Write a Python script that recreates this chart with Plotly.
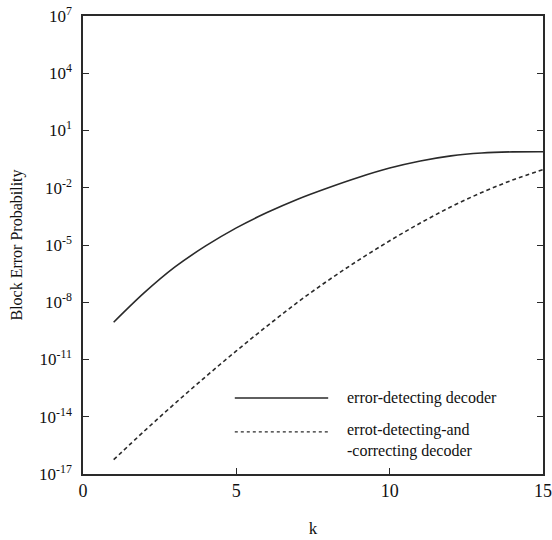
import plotly.graph_objects as go

k = list(range(1, 16))
log_detect = [-9.05, -7.5, -6.15, -5.05, -4.1, -3.3, -2.6, -2.0, -1.45, -0.97, -0.6, -0.33, -0.18, -0.12, -0.11]
log_correct = [-16.25, -14.75, -13.3, -11.9, -10.55, -9.25, -8.0, -6.85, -5.78, -4.78, -3.85, -3.0, -2.25, -1.6, -1.05]
p_detect = [10 ** v for v in log_detect]
p_correct = [10 ** v for v in log_correct]

y_exps = [7, 4, 1, -2, -5, -8, -11, -14, -17]
y_tickvals = [10.0 ** e for e in y_exps]
y_ticktext = ["10<sup>%d</sup>" % e for e in y_exps]
x_tickvals = [0, 5, 10, 15]

legend_names = ["error-detecting decoder", "errot-detecting-and<br>-correcting decoder"]

FONT = "Liberation Serif, Times New Roman, serif"
LC = "#2a2a2a"

fig = go.Figure()
fig.add_trace(go.Scatter(x=k, y=p_detect, mode="lines", line=dict(color=LC, width=1.6, shape="spline", smoothing=1.0),
                         name=legend_names[0], showlegend=False))
fig.add_trace(go.Scatter(x=k, y=p_correct, mode="lines",
                         line=dict(color=LC, width=1.6, dash="4px,3px", shape="spline", smoothing=1.0),
                         name=legend_names[1], showlegend=False))

# manual legend
fig.add_shape(type="line", xref="paper", yref="paper", x0=0.330, x1=0.533, y0=0.166, y1=0.166,
              line=dict(color=LC, width=1.6))
fig.add_shape(type="line", xref="paper", yref="paper", x0=0.330, x1=0.533, y0=0.092, y1=0.092,
              line=dict(color=LC, width=1.2, dash="3px,3px"))
fig.add_annotation(xref="paper", yref="paper", x=0.570, y=0.166, text=legend_names[0], showarrow=False,
                   xanchor="left", yanchor="middle", align="left", font=dict(family=FONT, size=16, color="#111"))
fig.add_annotation(xref="paper", yref="paper", x=0.570, y=0.074, text=legend_names[1], showarrow=False,
                   xanchor="left", yanchor="middle", align="left", font=dict(family=FONT, size=16, color="#111"))

fig.update_layout(
    width=552, height=540,
    margin=dict(l=83, r=9, t=16, b=66, autoexpand=False),
    paper_bgcolor="white", plot_bgcolor="white",
    font=dict(family=FONT, size=16, color="#111"),
    showlegend=False,
    xaxis=dict(range=[0, 15], tickvals=x_tickvals, ticks="inside", ticklen=6, tickcolor=LC,
               showline=True, linecolor=LC, linewidth=1.5, mirror=True, showgrid=False, zeroline=False,
               automargin=False,
               title=dict(text="k", font=dict(family=FONT, size=17), standoff=22),
               tickfont=dict(family=FONT, size=18)),
    yaxis=dict(type="log", range=[-17, 7], tickvals=y_tickvals, ticktext=y_ticktext, ticks="inside",
               ticklen=6, tickcolor=LC, showline=True, linecolor=LC, linewidth=1.5, mirror="ticks",
               showgrid=False, zeroline=False, ticklabelstandoff=6, automargin=False,
               title=dict(text="Block Error Probability", font=dict(family=FONT, size=16), standoff=12),
               tickfont=dict(family=FONT, size=17)),
)

fig.write_html("out.html", config={"displayModeBar": False},
               post_script="document.body.style.margin='0px';document.body.style.overflow='hidden';")
